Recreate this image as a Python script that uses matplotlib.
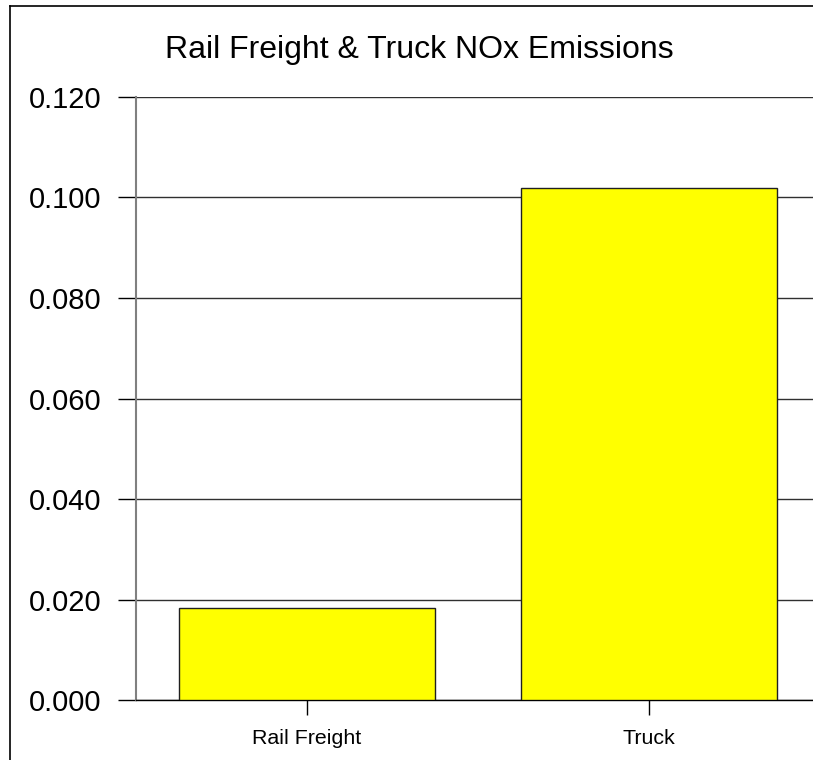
import matplotlib.pyplot as plt
from matplotlib.lines import Line2D

categories = ['Rail Freight', 'Truck']
nox = [0.0183, 0.1019]
yticks = [0.000, 0.020, 0.040, 0.060, 0.080, 0.100, 0.120]

plt.rcParams['font.family'] = ['Liberation Sans', 'DejaVu Sans']

fig = plt.figure(figsize=(8.13, 7.6), dpi=100)
ax = fig.add_axes([0.1673, 0.0789, 1.0 - 0.1673, 0.8724 - 0.0789])

x = list(range(len(categories)))
ax.bar(x, nox, width=0.75, color='#ffff00', edgecolor='#202020', linewidth=1, zorder=3)

ax.set_xlim(-0.5, 1.48)
ax.set_ylim(0, 0.12)
ax.set_yticks(yticks)
ax.set_yticklabels(['%.3f' % v for v in yticks], fontsize=21)
ax.set_xticks(x)
ax.set_xticklabels(categories, fontsize=15.4)
ax.yaxis.grid(True, color='#303030', linewidth=1, zorder=0)
ax.set_axisbelow(True)

ax.tick_params(axis='y', direction='out', length=13, width=1, color='black', pad=12)
ax.tick_params(axis='x', direction='out', length=11, width=1, color='black', pad=10)

for s in ['top', 'right']:
    ax.spines[s].set_visible(False)
ax.spines['left'].set_color('#808080')
ax.spines['left'].set_linewidth(1.5)
ax.spines['bottom'].set_color('black')
ax.spines['bottom'].set_linewidth(1)

fig.text(0.516, 0.934, 'Rail Freight & Truck NOx Emissions', fontsize=23,
         ha='center', va='center')

# frame around the figure (left and top)
fig.add_artist(Line2D([10 / 813, 10 / 813], [0, 1 - 6 / 760], color='black', lw=1.2))
fig.add_artist(Line2D([10 / 813, 1], [1 - 6 / 760, 1 - 6 / 760], color='black', lw=1.2))

fig.savefig('out.png', dpi=100)
